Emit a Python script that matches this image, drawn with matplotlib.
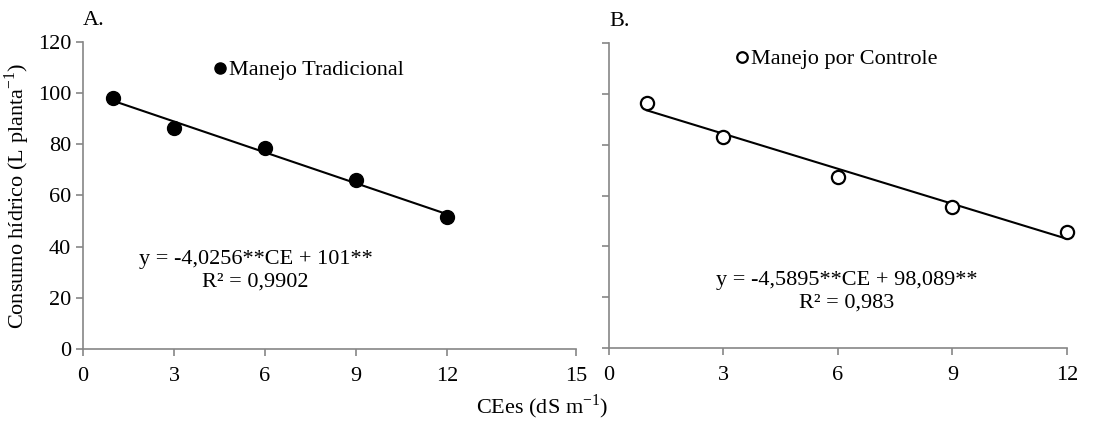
import matplotlib
matplotlib.use("Agg")
import matplotlib.pyplot as plt
import numpy as np

plt.rcParams['font.family'] = ['Liberation Serif', 'DejaVu Serif']
plt.rcParams['mathtext.fontset'] = 'custom'
plt.rcParams['mathtext.rm'] = 'Liberation Serif'

# data
ce = [1, 3, 6, 9, 12]
tradicional = [98.2, 86.4, 78.6, 66.0, 51.7]
controle = [96.5, 83.0, 67.3, 55.6, 45.5]

# fitted equations shown on the chart
coef_a = (-4.0256, 101)
coef_b = (-4.5895, 98.089)

eq_a = "y = -4,0256**CE + 101**\nR² = 0,9902"
eq_b = "y = -4,5895**CE + 98,089**\nR² = 0,983"

x_ticks_a = [0, 3, 6, 9, 12, 16.25]   # last tick is labelled 15 in the original
x_labels_a = ["0", "3", "6", "9", "12", "15"]
x_ticks_b = [0, 3, 6, 9, 12]
y_ticks = [0, 20, 40, 60, 80, 100, 120]

fig = plt.figure(figsize=(10.98, 4.22), dpi=100)
ax1 = fig.add_axes([0.0756, 0.173, 0.449, 0.7275])
ax2 = fig.add_axes([0.5546, 0.175, 0.417, 0.723])

gray = '#868686'
fs = 16

def style(ax):
    for s in ['top', 'right']:
        ax.spines[s].set_visible(False)
    for s in ['left', 'bottom']:
        ax.spines[s].set_color(gray)
        ax.spines[s].set_linewidth(1.2)
    ax.tick_params(axis='both', colors=gray, labelcolor='black', labelsize=fs,
                   direction='out', length=5, width=1.2)
    ax.tick_params(axis='x', pad=8)
    ax.set_ylim(0, 120)
    ax.set_yticks(y_ticks)

xx = np.linspace(1, 12, 2)

# panel A
style(ax1)
ax1.set_xlim(0, 16.25)
ax1.set_xticks(x_ticks_a)
ax1.set_xticklabels(x_labels_a)
ax1.plot(xx, coef_a[0] * xx + coef_a[1], color='black', lw=1.5)
ax1.plot(ce, tradicional, 'o', color='black', ms=10, label='Manejo Tradicional',
         clip_on=False)
ax1.legend(loc='upper left', bbox_to_anchor=(0.24, 0.985), frameon=False,
           fontsize=fs, handlelength=0.5, handletextpad=0.15, borderaxespad=0.2,
           markerscale=0.8)
ax1.text(0.35, 0.255, eq_a, transform=ax1.transAxes, ha='center', va='center',
         fontsize=fs, linespacing=1.3)
ax1.text(0.0, 1.055, "A.", transform=ax1.transAxes, fontsize=fs)
ax1.set_ylabel(r"Consumo hídrico (L planta$^{\mathrm{-1}}$)", fontsize=fs,
               labelpad=4)

# panel B
style(ax2)
ax2.set_xlim(0, 12)
ax2.set_xticks(x_ticks_b)
ax2.tick_params(axis='y', labelleft=False)
ax2.plot(xx, coef_b[0] * xx + coef_b[1], color='black', lw=1.5)
ax2.plot(ce, controle, 'o', mfc='white', mec='black', mew=1.6, ms=9.5,
         label='Manejo por Controle', clip_on=False)
ax2.legend(loc='upper left', bbox_to_anchor=(0.25, 1.025), frameon=False,
           fontsize=fs, handlelength=0.5, handletextpad=0.15, borderaxespad=0.2,
           markerscale=0.8)
ax2.text(0.52, 0.185, eq_b, transform=ax2.transAxes, ha='center', va='center',
         fontsize=fs, linespacing=1.3)
ax2.text(0.0, 1.055, "B.", transform=ax2.transAxes, fontsize=fs)

fig.text(0.494, 0.02, r"CEes (dS m$^{\mathrm{-1}}$)", ha='center', fontsize=fs)

fig.savefig("out.png", dpi=100)
